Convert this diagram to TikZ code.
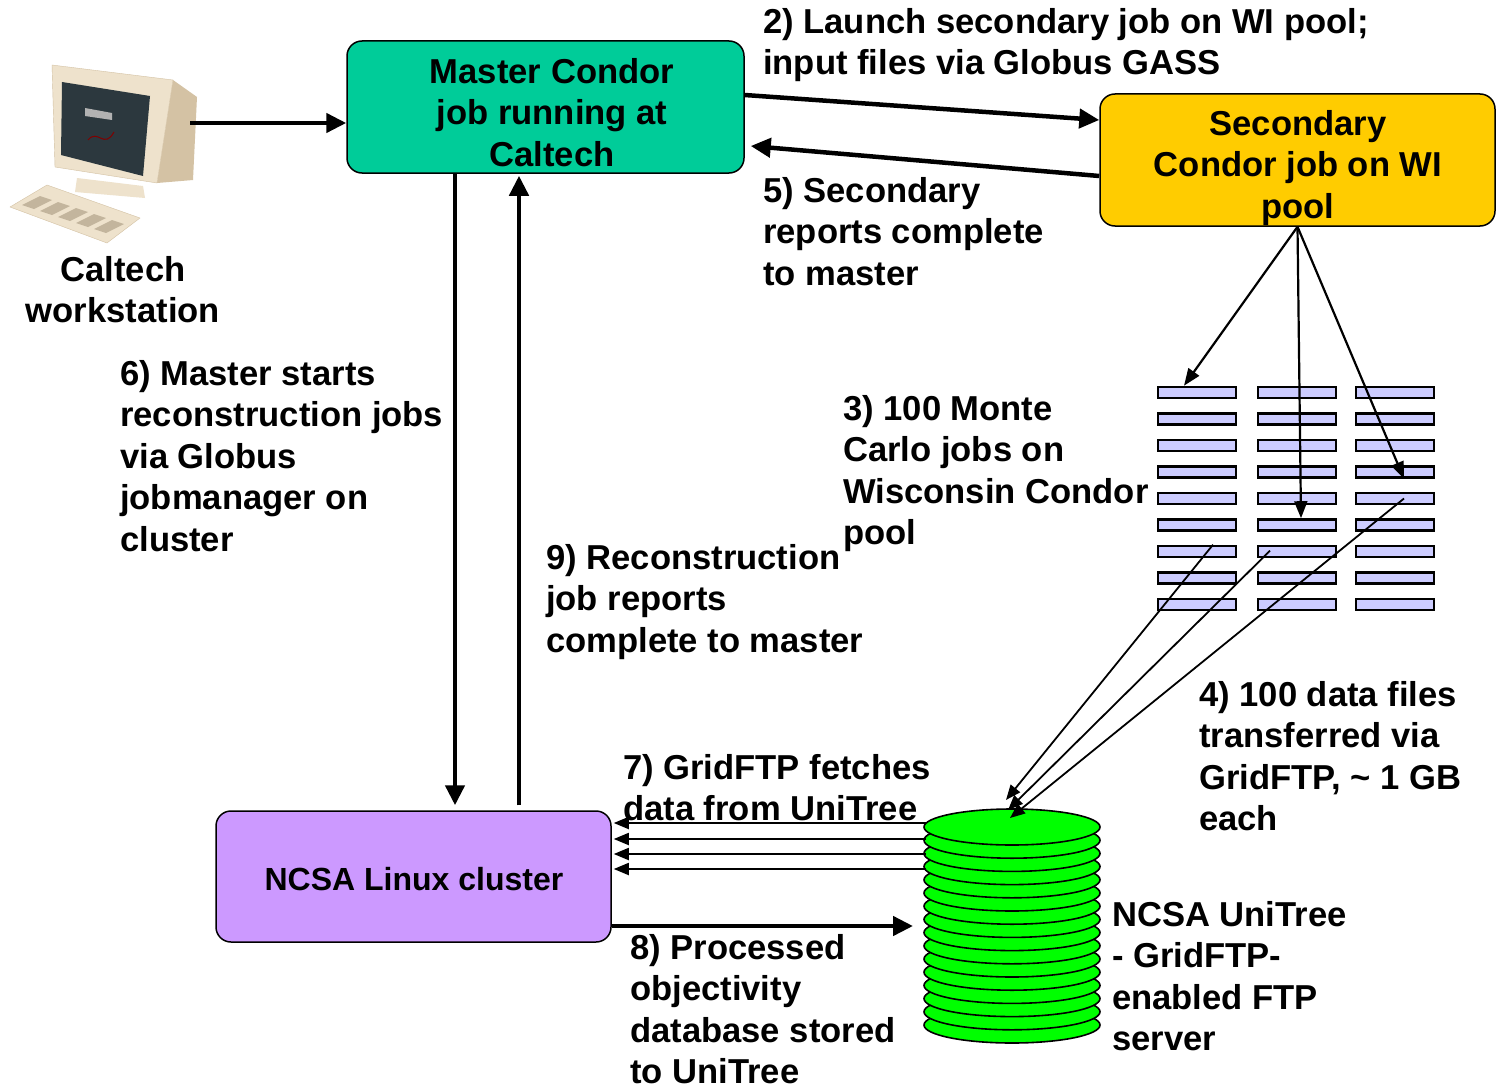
\documentclass[tikz,border=0pt]{standalone}
\usepackage{fontspec}
\setmainfont{Liberation Sans}
\usetikzlibrary{arrows.meta}

\definecolor{mastergreen}{RGB}{0,204,153}
\definecolor{secyellow}{RGB}{255,204,0}
\definecolor{clusterviolet}{RGB}{204,153,255}
\definecolor{joblav}{RGB}{204,204,255}
\definecolor{diskgreen}{RGB}{0,255,0}
\definecolor{beige}{RGB}{238,226,204}
\definecolor{beigedark}{RGB}{212,194,164}
\definecolor{screendark}{RGB}{44,56,62}

\tikzset{
	bigfont/.style={font=\fontsize{34.6}{41.5}\selectfont\bfseries},
	box/.style={draw, line width=1.5pt, rounded corners=15pt, inner sep=0pt},
	boxtext/.style={bigfont, align=center, inner sep=0pt},
	lbl/.style={bigfont, align=left, anchor=north west, inner sep=0pt},
	jobcell/.style={draw, line width=2.6pt, fill=joblav, minimum width=78pt,
		minimum height=11pt, inner sep=0pt},
	fat/.style={line width=4.5pt, -{Triangle[length=20pt,width=19pt]}},
	mid/.style={line width=2.2pt, -{Triangle[length=17pt,width=13pt]}},
	slim/.style={line width=1.8pt, -{Triangle[length=15pt,width=12pt]}},
	platter/.style={draw, line width=1.6pt, fill=diskgreen}
}

\begin{document}
\begin{tikzpicture}[x=1pt, y=-1pt]

	\useasboundingbox[fill=white] (0,0) rectangle (1496,1089);

% draw workstation
	\fill[beigedark] (173,80) -- (197,97) -- (193,180) -- (157,183) -- cycle;
	\fill[beige] (77,178) -- (143,186) -- (145,198) -- (75,192) -- cycle;
	\draw[beigedark, fill=beige] (52,65) -- (173,80) -- (157,183) -- (55,167) -- cycle;
	\fill[screendark] (62,82) -- (150,96) -- (143,176) -- (61,155) -- cycle;
	\fill[gray!60] (85,108) -- (112,113) -- (112,120) -- (85,116) -- cycle;
	\draw[red!50!black, line width=1pt] (88,140) .. controls (98,128) and (104,150) .. (114,132);
	\draw[beigedark, fill=beige] (10,207) -- (47,185) -- (140,218) -- (107,243) -- cycle;
	\foreach \k in {0,...,4}
		\fill[beigedark!80!gray] (22+18*\k,205+6*\k) -- (40+18*\k,196+6*\k)
			-- (52+18*\k,200+6*\k) -- (34+18*\k,209+6*\k) -- cycle;
	\node[minimum width=190pt, minimum height=185pt, inner sep=0pt] (ws) at (103,153) {};
	\coordinate (wsout) at (190,123);

	\node[bigfont, align=center, anchor=north, inner sep=0pt] (wslabel) at (123,256)
		{Caltech\\workstation};

% draw the three job boxes
	\node[box, fill=mastergreen, minimum width=397pt, minimum height=132pt] (master) at (545.5,107) {};
	\node[boxtext, anchor=north] (mastertxt) at (552,58) {Master Condor\\job running at\\Caltech};

	\node[box, fill=secyellow, minimum width=395pt, minimum height=132pt] (secondary) at (1297.5,160) {};
	\node[boxtext, anchor=north] (secondarytxt) at (1298,110) {Secondary\\Condor job on WI\\pool};

	\node[box, fill=clusterviolet, minimum width=395pt, minimum height=131pt] (cluster) at (413.5,876.5) {};
	\node[boxtext, anchor=base, font=\fontsize{32}{38}\selectfont\bfseries] (clustertxt) at (414,890) {NCSA Linux cluster};

% draw Monte Carlo jobs
	\foreach \c/\x in {1/1197, 2/1297, 3/1395}
		\foreach \r in {1,...,9}
			\node[jobcell] (job-\c-\r) at (\x, 386+26.5*\r-20) {};

% draw UniTree disk stack
	\foreach \k in {0,...,15}
		\draw[platter] (1012, 1025-13.2*\k) ellipse (88 and 18);
	\node[minimum width=178pt, minimum height=236pt, inner sep=0pt] (disk) at (1012,925) {};

% arrows between master and secondary
	\draw[fat] (wsout) -- (wsout -| master.west);
	\draw[fat] ([yshift=12pt]master.east) -- ([yshift=40pt]secondary.west);
	\draw[fat] ([yshift=-16pt]secondary.west) -- ([xshift=6pt,yshift=-39pt]master.east);

% arrows between master and cluster
	\coordinate (dn) at (455,0);
	\coordinate (up) at (519,0);
	\draw[fat] (dn |- master.south) -- ([yshift=5pt]dn |- cluster.north);
	\draw[fat] ([yshift=5pt]up |- cluster.north) -- ([yshift=-2pt]up |- master.south);

% secondary spawns jobs
	\draw[mid] (secondary.south) -- ([xshift=-13pt]job-1-1.north);
	\draw[mid] (secondary.south) -- ([xshift=4pt]job-2-6.north);
	\draw[mid] (secondary.south) -- ([xshift=9pt]job-3-4.south);

% data files to UniTree
	\coordinate (in1) at (1006,800);
	\coordinate (in2) at (1008,810);
	\coordinate (in3) at (1010,818);
	\draw[slim] ([xshift=16pt]job-1-7.north) -- (in1);
	\draw[slim] ([xshift=-27pt,yshift=-6pt]job-2-7.north) -- (in2);
	\draw[slim] ([xshift=9pt]job-3-5.center) -- (in3);

% GridFTP fetches to cluster
	\foreach \i/\y in {1/823, 2/839, 3/854, 4/869} {
		\coordinate (src-\i) at (926,\y);
		\draw[slim] (src-\i) -- ([xshift=2pt]src-\i -| cluster.east);
	}

% processed database stored
	\coordinate (store) at (913,926);
	\draw[fat] (cluster.east |- store) -- (store);

% labels
	\node[lbl] (l2) at (763,8) {2) Launch secondary job on WI pool;\\input files via Globus GASS};
	\node[lbl] (l5) at (763,177) {5) Secondary\\reports complete\\to master};
	\node[lbl] (l6) at (120,360) {6) Master starts\\reconstruction jobs\\via Globus\\jobmanager on\\cluster};
	\node[lbl] (l3) at (843,395) {3) 100 Monte\\Carlo jobs on\\Wisconsin Condor\\pool};
	\node[lbl] (l9) at (546,544) {9) Reconstruction\\job reports\\complete to master};
	\node[lbl] (l4) at (1199,681) {4) 100 data files\\transferred via\\GridFTP, \textasciitilde\ 1 GB\\each};
	\node[lbl] (l7) at (623,754) {7) GridFTP fetches\\data from UniTree};
	\node[lbl] (l8) at (630,934) {8) Processed\\objectivity\\database stored\\to UniTree};
	\node[lbl] (lu) at (1112,901) {NCSA UniTree\\- GridFTP-\\enabled FTP\\server};

\end{tikzpicture}
\end{document}
